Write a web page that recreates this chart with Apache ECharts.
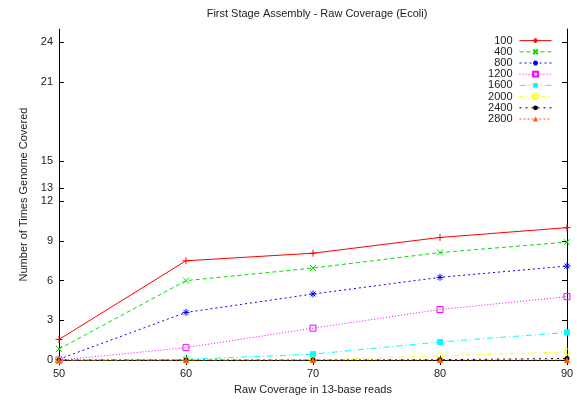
<!DOCTYPE html>
<html>
<head>
<meta charset="utf-8">
<script src="https://cdn.jsdelivr.net/npm/echarts@6/dist/echarts.min.js"></script>
<style>
  html, body { margin: 0; padding: 0; background: #fff; }
  #chart { width: 577px; height: 400px; }
</style>
</head>
<body>
<div id="chart"></div>
<script>
// Raw coverage (x) for each run
const coverage = [50, 60, 70, 80, 90];

// Series names (minimum length threshold)
const seriesNames = ['100', '400', '800', '1200', '1600', '2000', '2400', '2800'];

// Number of times the genome is covered, one array per threshold
const cov100  = [1.56, 7.50, 8.07, 9.26, 10.00];
const cov400  = [0.84, 6.00, 6.95, 8.12, 8.91];
const cov800  = [0.07, 3.60, 4.99, 6.25, 7.10];
const cov1200 = [0.00, 0.94, 2.41, 3.82, 4.79];
const cov1600 = [0.00, 0.05, 0.45, 1.37, 2.09];
const cov2000 = [0.00, 0.00, 0.02, 0.32, 0.62];
const cov2400 = [0.00, 0.00, 0.00, 0.03, 0.12];
const cov2800 = [0.00, 0.00, 0.00, 0.00, 0.00];

// Tick values on the axes
const yTicks = [0, 3, 6, 9, 12, 13, 15, 21, 24];
const xTicks = [50, 60, 70, 80, 90];

const allValues = [cov100, cov400, cov800, cov1200, cov1600, cov2000, cov2400, cov2800];

const FONT = '"Liberation Sans", Arial, Helvetica, sans-serif';

const PLUS = 'path://M0,5L10,5M5,0L5,10';
const CROSS = 'path://M0,0L10,10M10,0L0,10';
const STAR = 'path://M0,5L10,5M5,0L5,10M1.5,1.5L8.5,8.5M8.5,1.5L1.5,8.5';

const styles = [
  { color: '#ff0000', dash: 'solid',        symbol: PLUS,       size: 7, hollow: true },
  { color: '#00e000', dash: [4, 3],         symbol: CROSS,      size: 6, hollow: true },
  { color: '#0000ff', dash: [2, 3],         symbol: STAR,       size: 7, hollow: true },
  { color: '#ff00ff', dash: [1, 2],         symbol: 'rect',     size: 6, hollow: true },
  { color: '#00ffff', dash: [6, 3, 1, 3],   symbol: 'rect',     size: 6, hollow: false },
  { color: '#ffff00', dash: [4, 3, 1, 3],   symbol: 'circle',   size: 6, hollow: true },
  { color: '#000000', dash: [2, 4],         symbol: 'circle',   size: 5, hollow: false },
  { color: '#ff5a00', dash: [2, 2],         symbol: 'triangle', size: 6, hollow: false }
];

const series = seriesNames.map((name, i) => {
  const s = styles[i];
  return {
    name: name,
    type: 'line',
    xAxisIndex: 0,
    yAxisIndex: 0,
    data: coverage.map((x, j) => [x, allValues[i][j]]),
    color: s.color,
    symbol: s.symbol,
    symbolSize: s.size,
    showAllSymbol: true,
    animation: false,
    lineStyle: { color: s.color, width: 1, type: s.dash },
    itemStyle: s.hollow
      ? { color: 'none', borderColor: s.color, borderWidth: 1 }
      : { color: s.color, borderColor: s.color, borderWidth: 0 },
    emphasis: { disabled: true }
  };
});

const axisLine = { show: true, lineStyle: { color: '#000', width: 1 } };

const chart = echarts.init(document.getElementById('chart'), null, { renderer: 'canvas' });
chart.setOption({
  backgroundColor: '#fff',
  animation: false,
  title: {
    text: 'First Stage Assembly - Raw Coverage (Ecoli)',
    left: 312,
    textAlign: 'center',
    top: 3,
    textStyle: { fontFamily: FONT, fontSize: 11, fontWeight: 'normal', color: '#222' }
  },
  legend: {
    orient: 'vertical',
    right: 25,
    top: 35,
    align: 'right',
    padding: 0,
    itemWidth: 32,
    itemHeight: 6,
    itemGap: 0,
    lineStyle: { width: 1 },
    textStyle: { fontFamily: FONT, fontSize: 11, lineHeight: 11.2, color: '#222',
                 width: 30, align: 'right', padding: [0, 2, 0, 0] },
    data: seriesNames
  },
  grid: { left: 59, right: 10, top: 29, bottom: 35, containLabel: false },
  xAxis: [
    {
      type: 'value', min: 50, max: 90, interval: 10,
      position: 'bottom',
      name: 'Raw Coverage in 13-base reads',
      nameLocation: 'middle',
      nameGap: 22,
      nameTextStyle: { fontFamily: FONT, fontSize: 11, color: '#222' },
      axisLine: axisLine,
      axisTick: { show: true, inside: true, length: 5, lineStyle: { color: '#000' },
                  customValues: xTicks },
      axisLabel: { fontFamily: FONT, fontSize: 11, color: '#222', margin: 8,
                   customValues: xTicks },
      splitLine: { show: false }
    },
    {
      type: 'value', min: 50, max: 90, interval: 10,
      position: 'top',
      axisLine: axisLine,
      axisTick: { show: true, inside: true, length: 5, lineStyle: { color: '#000' },
                  customValues: xTicks },
      axisLabel: { show: false },
      splitLine: { show: false }
    }
  ],
  yAxis: [
    {
      type: 'value', min: 0, max: 25, interval: 1,
      position: 'left',
      name: 'Number of Times Genome Covered',
      nameLocation: 'middle',
      nameGap: 30,
      nameTextStyle: { fontFamily: FONT, fontSize: 11, color: '#222' },
      axisLine: axisLine,
      axisTick: { show: true, inside: true, length: 5, lineStyle: { color: '#000' },
                  customValues: yTicks },
      axisLabel: { fontFamily: FONT, fontSize: 11, color: '#222', margin: 6,
                   customValues: yTicks },
      splitLine: { show: false }
    },
    {
      type: 'value', min: 0, max: 25, interval: 1,
      position: 'right',
      axisLine: axisLine,
      axisTick: { show: true, inside: true, length: 5, lineStyle: { color: '#000' },
                  customValues: yTicks },
      axisLabel: { show: false },
      splitLine: { show: false }
    }
  ],
  series: series
});
</script>
</body>
</html>
